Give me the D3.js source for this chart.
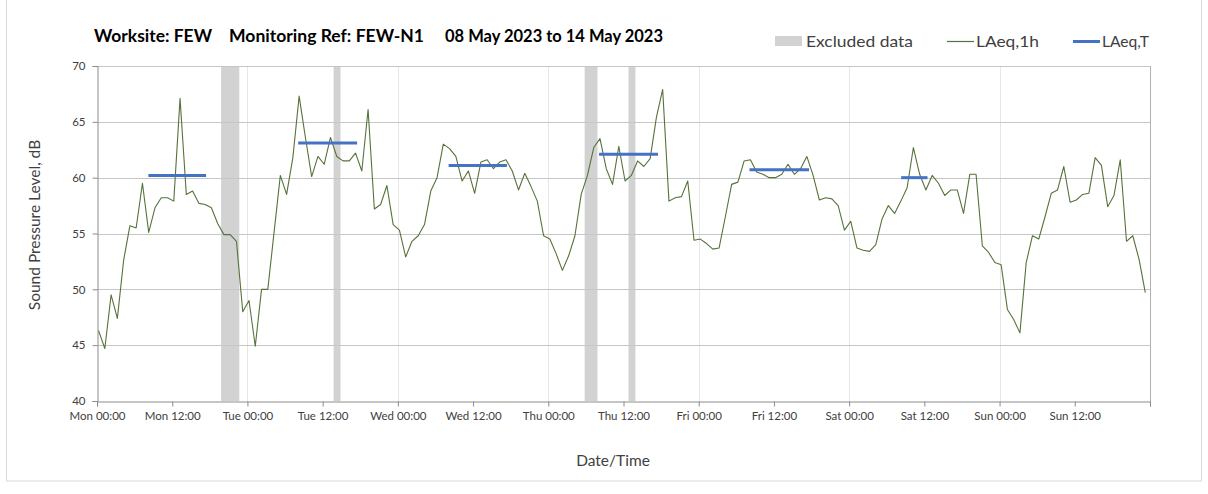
<!DOCTYPE html>
<html>
<head>
<meta charset="utf-8">
<script src="https://cdn.jsdelivr.net/npm/d3@7"></script>
<style>
  html, body { margin: 0; padding: 0; background: #fff; }
  svg { display: block; font-family: Lato, "Open Sans", sans-serif; }
</style>
</head>
<body>
<svg id="chart" width="1208" height="494"></svg>
<script>
// ---------- data ----------
// hourly LAeq,1h values, Mon 00:00 (hour 0) to Sun 23:00 (hour 167)
const laeq1h = [
  46.3, 44.7, 49.5, 47.4, 52.6, 55.7, 55.5, 59.5, 55.1, 57.3, 58.2, 58.2, 57.9, 67.1, 58.5, 58.8, 57.7, 57.6, 57.3, 55.9, 54.9, 54.9, 54.3, 48.0,
  49.0, 44.9, 50.0, 50.0, 55.1, 60.2, 58.5, 61.8, 67.3, 63.6, 60.1, 61.9, 61.2, 63.6, 61.9, 61.5, 61.5, 62.2, 60.6, 66.1, 57.2, 57.6, 59.3, 55.8,
  55.3, 52.9, 54.3, 54.8, 55.8, 58.8, 60.0, 63.0, 62.6, 61.9, 59.7, 60.6, 58.6, 61.4, 61.6, 60.8, 61.4, 61.6, 60.6, 58.9, 60.4, 59.2, 57.9, 54.8,
  54.5, 53.2, 51.7, 53.0, 54.8, 58.5, 60.2, 62.7, 63.5, 60.8, 59.4, 62.8, 59.7, 60.2, 61.5, 61.0, 61.7, 65.4, 67.9, 57.9, 58.2, 58.3, 59.7, 54.4,
  54.5, 54.1, 53.6, 53.7, 56.5, 59.4, 59.6, 61.5, 61.6, 60.5, 60.3, 60.0, 60.0, 60.3, 61.2, 60.3, 60.8, 61.9, 60.2, 58.0, 58.2, 58.1, 57.5, 55.3,
  56.1, 53.7, 53.5, 53.4, 54.0, 56.3, 57.5, 56.8, 57.9, 59.1, 62.7, 60.3, 58.9, 60.2, 59.5, 58.4, 58.9, 58.9, 56.8, 60.3, 60.3, 53.9, 53.3, 52.4,
  52.2, 48.2, 47.3, 46.1, 52.4, 54.8, 54.5, 56.5, 58.6, 58.9, 61.0, 57.8, 58.0, 58.5, 58.6, 61.8, 61.1, 57.4, 58.4, 61.6, 54.3, 54.8, 52.7, 49.7
];
// LAeq,T (working period) segments, in hours from Mon 00:00
const laeqTStart  = [8.2, 32.1, 56.1, 80.1, 104.1, 128.3];
const laeqTEnd    = [17.4, 41.5, 65.4, 89.5, 113.6, 132.5];
const laeqTValues = [60.2, 63.1, 61.1, 62.1, 60.7, 60.0];
// excluded data periods, in hours from Mon 00:00
const excludedStart = [19.8, 37.75, 77.8, 84.8];
const excludedEnd   = [22.7, 38.85, 79.85, 85.9];
// axis tick labels
const xTickLabels = ["Mon 00:00", "Mon 12:00", "Tue 00:00", "Tue 12:00", "Wed 00:00", "Wed 12:00", "Thu 00:00",
                     "Thu 12:00", "Fri 00:00", "Fri 12:00", "Sat 00:00", "Sat 12:00", "Sun 00:00", "Sun 12:00"];
const yTicks = [40, 45, 50, 55, 60, 65, 70];
const titleParts = ["Worksite: FEW", "Monitoring Ref: FEW-N1", "08 May 2023 to 14 May 2023"];
const legendLabels = ["Excluded data", "LAeq,1h", "LAeq,T"];

// ---------- layout ----------
const svg = d3.select("#chart");
const plot = { left: 97, right: 1150, top: 66, bottom: 401 };
const x = d3.scaleLinear().domain([0, 168]).range([plot.left, plot.right]);
const y = d3.scaleLinear().domain([40, 70]).range([plot.bottom, plot.top]);
const pointOffset = 0.25;

// outer chart border
svg.append("rect").attr("x", 6.5).attr("y", -1).attr("width", 1195).attr("height", 482)
  .attr("fill", "none").attr("stroke", "#d9d9d9");

// excluded bands
svg.append("g").selectAll("rect").data(excludedStart).join("rect")
  .attr("x", d => x(d))
  .attr("width", (d, i) => x(excludedEnd[i]) - x(d))
  .attr("y", plot.top).attr("height", plot.bottom - plot.top)
  .attr("fill", "#d2d2d2");

// vertical day gridlines
const dayHours = d3.range(24, 168, 24);
svg.append("g").selectAll("line").data(dayHours).join("line")
  .attr("x1", d => Math.round(x(d)) + 0.5).attr("x2", d => Math.round(x(d)) + 0.5)
  .attr("y1", plot.top).attr("y2", plot.bottom)
  .attr("stroke", "#e6e6e6").attr("stroke-width", 1);

// horizontal gridlines
svg.append("g").selectAll("line").data(yTicks.filter(v => v > 40)).join("line")
  .attr("x1", plot.left).attr("x2", plot.right)
  .attr("y1", d => Math.round(y(d)) + 0.5).attr("y2", d => Math.round(y(d)) + 0.5)
  .attr("stroke", "#c6c6c6").attr("stroke-width", 1);

// right border of plot area
svg.append("line").attr("x1", plot.right + 0.5).attr("x2", plot.right + 0.5)
  .attr("y1", plot.top).attr("y2", plot.bottom + 5).attr("stroke", "#b0b0b0");

// axes
const xAxis = d3.axisBottom(x)
  .tickValues(d3.range(0, 169, 12))
  .tickSize(5)
  .tickFormat((d, i) => xTickLabels[i] || "");
const gx = svg.append("g").attr("transform", `translate(0,${Math.round(plot.bottom) + 0.5})`).call(xAxis);
gx.select(".domain").attr("stroke", "#8c8c8c");
gx.selectAll(".tick line").attr("stroke", "#8c8c8c");
gx.selectAll(".tick text").attr("fill", "#404040").attr("font-size", 11.5).attr("dy", "0.95em")
  .attr("font-family", "Lato, sans-serif");

const yAxis = d3.axisLeft(y).tickValues(yTicks).tickSize(5).tickPadding(7).tickFormat(d3.format("d"));
const gy = svg.append("g").attr("transform", `translate(${plot.left + 0.5},0)`).call(yAxis);
gy.select(".domain").attr("stroke", "#8c8c8c");
gy.selectAll(".tick line").attr("stroke", "#8c8c8c");
gy.selectAll(".tick text").attr("fill", "#404040").attr("font-size", 11.5)
  .attr("font-family", "Lato, sans-serif");

// LAeq,1h line
const line = d3.line().x((d, i) => x(i + pointOffset)).y(d => y(d));
svg.append("path").datum(laeq1h).attr("d", line)
  .attr("fill", "none").attr("stroke", "#56733a").attr("stroke-width", 1.1)
  .attr("stroke-linejoin", "round");

// LAeq,T segments
svg.append("g").selectAll("line").data(laeqTValues).join("line")
  .attr("x1", (d, i) => x(laeqTStart[i])).attr("x2", (d, i) => x(laeqTEnd[i]))
  .attr("y1", d => y(d)).attr("y2", d => y(d))
  .attr("stroke", "#4472c4").attr("stroke-width", 3);

// axis titles
svg.append("text").attr("transform", "translate(40,225) rotate(-90)")
  .attr("text-anchor", "middle").attr("font-size", 15.5).attr("fill", "#404040")
  .text("Sound Pressure Level, dB");
svg.append("text").attr("x", 613).attr("y", 466)
  .attr("text-anchor", "middle").attr("font-size", 15.5).attr("fill", "#404040")
  .text("Date/Time");

// title
const titleX = [94, 229, 445];
const titleW = [118, 195, 218];
svg.append("g").selectAll("text").data(titleParts).join("text")
  .attr("x", (d, i) => titleX[i]).attr("y", 42)
  .attr("font-size", 16.5).attr("font-weight", "bold").attr("fill", "#000")
  .attr("textLength", (d, i) => titleW[i]).attr("lengthAdjust", "spacingAndGlyphs")
  .text(d => d);

// legend
const lg = svg.append("g");
lg.append("rect").attr("x", 775).attr("y", 36).attr("width", 27).attr("height", 10).attr("fill", "#d2d2d2");
lg.append("line").attr("x1", 947).attr("x2", 974).attr("y1", 41.5).attr("y2", 41.5)
  .attr("stroke", "#56733a").attr("stroke-width", 1.2);
lg.append("line").attr("x1", 1073).attr("x2", 1100).attr("y1", 41.5).attr("y2", 41.5)
  .attr("stroke", "#4472c4").attr("stroke-width", 3);
const legX = [806, 976, 1102];
const legW = [107, 63, 47];
lg.selectAll("text").data(legendLabels).join("text")
  .attr("x", (d, i) => legX[i]).attr("y", 47)
  .attr("font-size", 16).attr("fill", "#404040")
  .attr("textLength", (d, i) => legW[i]).attr("lengthAdjust", "spacingAndGlyphs")
  .text(d => d);
</script>
</body>
</html>
